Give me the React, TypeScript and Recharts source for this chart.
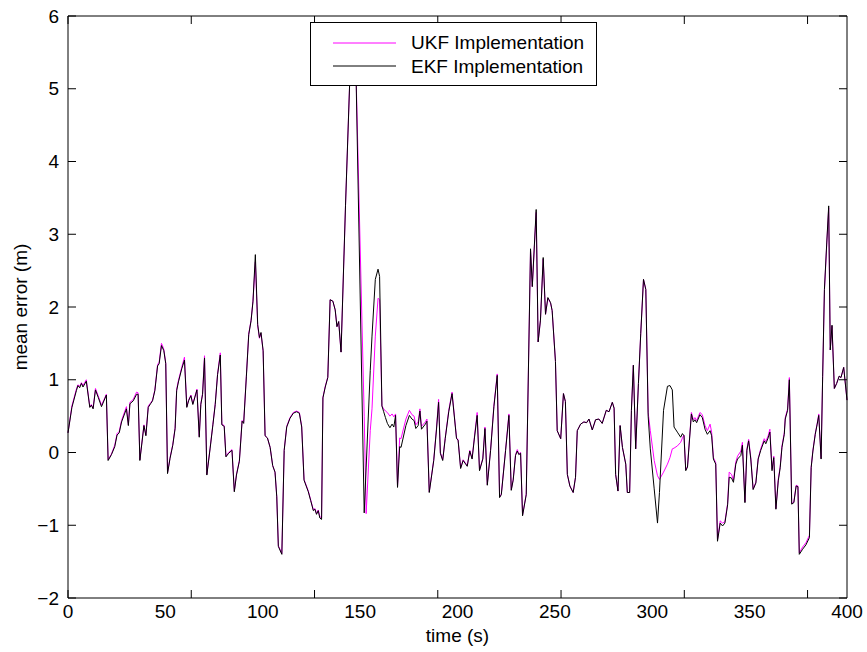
import React from 'react';
import { LineChart, Line, XAxis, YAxis, Legend } from 'recharts';

// sample times (s)
const time = [
  0, 2, 4.3, 5.1, 6, 6.9, 7.7, 9.4, 11.2, 12,
  12.9, 14.1, 15.5, 17.2, 19.7, 20.6, 22.3, 24, 25.2, 26.3,
  27.5, 30, 31, 31.8, 33.5, 35.2, 36, 36.9, 39, 40,
  41.2, 42.4, 43.4, 44.6, 46, 46.8, 48, 49.2, 50.2, 51.1,
  52.4, 53.8, 55, 55.8, 56.7, 58.4, 59.8, 61, 61.9, 63.1,
  64.1, 66.2, 67.4, 68.2, 69.1, 70.1, 71.3, 73, 74.4, 75.6,
  76.8, 78.2, 79, 80.2, 81.1, 82.5, 84.2, 85.4, 86.5, 88,
  89.4, 90.2, 91.6, 92.8, 94, 95, 96.2, 97.4, 98.3, 99.1,
  100.2, 101.2, 102.4, 103.8, 105.1, 106.3, 107.2, 108, 109.8, 111,
  112.3, 114, 115.7, 117.4, 118.8, 120, 121.2, 123.4, 124.6, 126,
  126.8, 127.6, 128.5, 129.3, 130.2, 130.9, 132.1, 133.4, 134.6, 136,
  137.2, 138.1, 139, 140.2, 142.5, 144.6, 146.3, 148, 152.1, 153.1,
  155.2, 156.1, 157.8, 159.2, 160, 161.2, 162.1, 163, 164, 165.3,
  166.4, 167.3, 168.2, 169.2, 170.3, 171, 173.5, 175.3, 176.6, 177.7,
  178.6, 179.8, 180.7, 181.5, 183.5, 184.3, 185.5, 187.8, 189.2, 190.3,
  191.2, 192.4, 193.7, 195.5, 197.2, 199.5, 200.3, 201.6, 202.9, 205,
  206.3, 207.5, 208.7, 210.1, 211.3, 213, 214.1, 215.3, 217, 218.7,
  220.4, 221.6, 222.5, 224.7, 226.4, 227.6, 228.6, 229.8, 230.7, 231.5,
  232.4, 233.4, 235.3, 237.5, 238.4, 240.4, 241.4, 242.6, 244, 245.2,
  246.4, 247.8, 248.6, 250.3, 251.2, 253, 254.4, 255.4, 256.4, 257.7,
  259.4, 260.6, 261.5, 263.2, 264.9, 266.3, 267.5, 269.2, 270.9, 272.6,
  274.3, 276.4, 277.8, 279.5, 280.4, 281.2, 282.4, 283.5, 284.7, 286.4,
  287.2, 288.4, 289.3, 290.3, 291.5, 292.9, 294.1, 295.5, 296.7, 297.9,
  299, 301, 302.7, 303.7, 305.8, 307.8, 309.1, 310.3, 311.2, 312.9,
  314.6, 315.5, 316.3, 317.2, 318.1, 320.1, 321.1, 321.9, 322.8, 324.5,
  325.7, 327.1, 328.3, 329.7, 330.5, 331.4, 332.6, 333.5, 334.9, 336.1,
  337.3, 338.7, 339.5, 340.7, 341.7, 342.9, 343.8, 345.5, 346.3, 347.6,
  348.6, 349.5, 350.6, 351.8, 353.2, 354.4, 355.7, 357.5, 358.3, 359.5,
  360.4, 361.5, 362.4, 363.5, 364.7, 365.7, 366.6, 367.8, 368.3, 369.5,
  370.4, 371.6, 372.7, 373.9, 374.8, 375.5, 377.2, 378.9, 380.7, 381.6,
  382.5, 383.7, 384.7, 385.5, 386.7, 387.5, 388.4, 389.6, 390.6, 391.4,
  392.3, 393.5, 394.7, 396, 396.9, 398.3, 400,
];

// mean error of the EKF (m)
const ekf = [
  0.27, 0.62, 0.85, 0.92, 0.89, 0.95, 0.9, 0.98, 0.62, 0.65,
  0.6, 0.86, 0.76, 0.63, 0.79, -0.11, -0.03, 0.08, 0.24, 0.27,
  0.42, 0.6, 0.37, 0.67, 0.71, 0.8, 0.8, -0.11, 0.37, 0.23,
  0.62, 0.67, 0.71, 0.85, 1.19, 1.22, 1.47, 1.4, 1.22, -0.29,
  -0.08, 0.1, 0.33, 0.85, 0.97, 1.15, 1.27, 0.62, 0.71, 0.78,
  0.66, 0.86, 0.21, 0.66, 0.8, 1.3, -0.31, 0.06, 0.38, 0.66,
  1.07, 1.34, 0.38, 0.36, -0.06, -0.01, 0.03, -0.54, -0.31, -0.12,
  0.43, 0.4, 1.05, 1.62, 1.81, 2.08, 2.72, 1.76, 1.58, 1.65,
  1.4, 0.23, 0.2, 0.07, -0.18, -0.27, -0.61, -1.29, -1.4, 0.03,
  0.35, 0.47, 0.54, 0.56, 0.54, 0.35, -0.38, -0.54, -0.66, -0.8,
  -0.78, -0.85, -0.8, -0.9, -0.92, 0.75, 0.9, 1.03, 2.1, 2.08,
  1.96, 1.73, 1.8, 1.38, 3.4, 5.05, 5.8, 5.05, -0.83, -0.2,
  1.13, 1.6, 2.38, 2.52, 2.42, 0.64, 0.56, 0.48, 0.4, 0.34,
  0.39, 0.35, 0.51, -0.48, 0.08, 0.07, 0.37, 0.51, 0.46, 0.44,
  0.33, 0.37, 0.57, 0.32, 0.39, 0.43, -0.55, -0.11, 0.31, 0.69,
  -0.01, -0.11, 0.19, 0.56, 0.81, 0.19, 0.17, -0.22, -0.11, -0.19,
  0.02, -0.09, 0.2, 0.51, -0.25, -0.09, 0.33, -0.45, 0.03, 0.63,
  1.06, -0.62, -0.58, 0.03, 0.51, -0.52, -0.38, -0.04, 0.02, -0.03,
  -0.01, -0.87, -0.58, 2.8, 2.28, 3.34, 1.52, 1.82, 2.68, 1.9,
  2.13, 2.06, 1.95, 1.25, 0.3, 0.19, 0.81, 0.7, -0.3, -0.46,
  -0.55, -0.34, 0.3, 0.39, 0.42, 0.41, 0.46, 0.31, 0.45, 0.46,
  0.4, 0.58, 0.56, 0.69, 0.61, -0.3, -0.53, 0.37, 0.07, -0.16,
  -0.55, -0.55, 0.58, 1.2, 0.05, 0.95, 1.64, 2.38, 2.24, 0.5,
  0.05, -0.5, -0.97, -0.55, 0.58, 0.91, 0.92, 0.86, 0.35, 0.28,
  0.21, 0.26, 0.23, -0.25, -0.2, 0.53, 0.42, 0.45, 0.41, 0.52,
  0.48, 0.32, 0.25, 0.3, 0.23, -0.09, -0.16, -1.22, -0.97, -1.01,
  -0.97, -0.72, -0.34, -0.35, -0.41, -0.16, -0.09, -0.04, 0.1, -0.69,
  0.03, 0.16, -0.09, -0.51, -0.42, -0.09, 0.03, 0.16, 0.12, 0.2,
  0.28, -0.25, -0.07, -0.78, -0.39, -0.21, 0.07, 0.25, 0.46, 0.58,
  1.0, -0.71, -0.69, -0.46, -0.47, -1.4, -1.33, -1.27, -1.17, -0.21,
  0.02, 0.25, 0.39, 0.51, -0.09, 1.04, 2.24, 2.88, 3.39, 1.41,
  1.75, 0.88, 0.95, 1.05, 1.03, 1.17, 0.72,
];

// mean error of the UKF (m)
const ukf = [
  0.27, 0.64, 0.87, 0.93, 0.91, 0.96, 0.92, 1.0, 0.63, 0.66,
  0.61, 0.88, 0.78, 0.65, 0.8, -0.1, -0.02, 0.1, 0.26, 0.29,
  0.44, 0.63, 0.38, 0.69, 0.73, 0.83, 0.82, -0.1, 0.38, 0.24,
  0.64, 0.68, 0.72, 0.86, 1.21, 1.24, 1.5, 1.42, 1.23, -0.28,
  -0.07, 0.11, 0.34, 0.87, 0.99, 1.17, 1.31, 0.63, 0.72, 0.79,
  0.67, 0.87, 0.22, 0.67, 0.81, 1.33, -0.3, 0.07, 0.39, 0.67,
  1.08, 1.37, 0.39, 0.37, -0.05, 0, 0.04, -0.53, -0.3, -0.11,
  0.44, 0.41, 1.06, 1.63, 1.82, 2.09, 2.62, 1.74, 1.57, 1.64,
  1.39, 0.23, 0.2, 0.07, -0.18, -0.27, -0.61, -1.28, -1.39, 0.03,
  0.36, 0.48, 0.55, 0.57, 0.55, 0.36, -0.37, -0.53, -0.65, -0.79,
  -0.77, -0.84, -0.79, -0.88, -0.9, 0.76, 0.91, 1.04, 2.1, 2.08,
  1.96, 1.73, 1.8, 1.38, 3.4, 5.05, 5.8, 5.1, 0.5, -0.84,
  0.3, 0.6, 1.6, 2.12, 2.1, 0.64, 0.6, 0.57, 0.55, 0.5,
  0.53, 0.49, 0.53, -0.47, 0.2, 0.19, 0.46, 0.58, 0.52, 0.5,
  0.38, 0.42, 0.6, 0.36, 0.42, 0.46, -0.54, -0.1, 0.33, 0.73,
  0, -0.1, 0.2, 0.58, 0.83, 0.2, 0.18, -0.21, -0.1, -0.18,
  0.03, -0.08, 0.22, 0.55, -0.24, -0.08, 0.35, -0.44, 0.04, 0.65,
  1.08, -0.61, -0.57, 0.04, 0.53, -0.51, -0.37, -0.03, 0.04, -0.02,
  0, -0.86, -0.57, 2.78, 2.28, 3.3, 1.52, 1.82, 2.66, 1.9,
  2.12, 2.05, 1.95, 1.25, 0.3, 0.19, 0.81, 0.7, -0.3, -0.46,
  -0.55, -0.34, 0.3, 0.39, 0.42, 0.41, 0.46, 0.31, 0.45, 0.46,
  0.4, 0.58, 0.56, 0.69, 0.61, -0.3, -0.53, 0.37, 0.07, -0.16,
  -0.55, -0.55, 0.58, 1.2, 0.05, 0.95, 1.64, 2.38, 2.24, 0.55,
  0.3, -0.11, -0.32, -0.37, -0.27, -0.16, -0.07, 0.05, 0.06, 0.09,
  0.14, 0.2, 0.24, -0.24, -0.19, 0.55, 0.45, 0.48, 0.44, 0.55,
  0.52, 0.37, 0.3, 0.39, 0.28, -0.07, -0.14, -1.2, -0.94, -0.97,
  -0.95, -0.7, -0.27, -0.3, -0.38, -0.13, -0.05, 0.02, 0.14, -0.68,
  0.05, 0.18, -0.07, -0.5, -0.41, -0.08, 0.05, 0.19, 0.15, 0.23,
  0.32, -0.23, -0.05, -0.77, -0.37, -0.19, 0.09, 0.27, 0.48, 0.6,
  1.03, -0.7, -0.68, -0.45, -0.46, -1.38, -1.3, -1.24, -1.14, -0.2,
  0.03, 0.26, 0.4, 0.53, -0.08, 1.04, 2.22, 2.86, 3.36, 1.41,
  1.74, 0.88, 0.95, 1.05, 1.03, 1.17, 0.72,
];

const xTicks = [0, 50, 100, 150, 200, 250, 300, 350, 400];
const yTicks = [-2, -1, 0, 1, 2, 3, 4, 5, 6];

const UKF_NAME = 'UKF Implementation';
const EKF_NAME = 'EKF Implementation';
const legendOrder = [UKF_NAME, EKF_NAME];

const data = time.map((t, i) => ({ t, ukf: ukf[i], ekf: ekf[i] }));

const FONT = '"Liberation Sans", Arial, Helvetica, sans-serif';
const FS = 19;
const TICK_LEN = 8;
const tickStyle = { fill: '#000', fontSize: FS, fontFamily: FONT };
const minus = (v: number) => (v < 0 ? '\u2212' + Math.abs(v) : String(v));
const blank = () => '';

const YTitle = ({ viewBox }: any) => {
  const cx = 20;
  const cy = viewBox.y + viewBox.height / 2;
  return (
    <text
      x={cx}
      y={cy}
      transform={`rotate(-90 ${cx} ${cy})`}
      textAnchor="middle"
      dominantBaseline="central"
      fill="#000"
      fontSize={FS}
      fontFamily={FONT}
    >
      mean error (m)
    </text>
  );
};

const LegendBox = ({ payload }: any) => {
  const items = [...(payload || [])].sort(
    (a: any, b: any) => legendOrder.indexOf(a.value) - legendOrder.indexOf(b.value)
  );
  return (
    <div
      style={{
        width: 287,
        height: 64,
        boxSizing: 'border-box',
        border: '1px solid #000',
        background: '#fff',
        paddingTop: 8,
        fontFamily: FONT,
        fontSize: FS,
        color: '#000',
      }}
    >
      {items.map((p: any) => (
        <div key={p.value} style={{ display: 'flex', alignItems: 'center', height: 23.5 }}>
          <svg width={100} height={4} style={{ flex: 'none' }}>
            <line x1={22} x2={85} y1={2} y2={2} stroke={p.color} strokeWidth={1} />
          </svg>
          <span style={{ lineHeight: 1 }}>{p.value}</span>
        </div>
      ))}
    </div>
  );
};

// inward tick marks on all four sides of the box (lines only, empty labels)
const tickAxis = {
  type: 'number' as const,
  allowDataOverflow: true,
  interval: 0 as const,
  mirror: true,
  tickFormatter: blank,
  tickSize: TICK_LEN,
  tickMargin: 0,
  tickLine: { stroke: '#000' },
};

export default function App() {
  return (
    <div style={{ position: 'absolute', left: 0, top: 0, width: 867, height: 652, background: '#fff' }}>
      <LineChart width={867} height={652} data={data} margin={{ top: 16, right: 20, bottom: 0, left: 0 }}>
        <XAxis
          dataKey="t"
          type="number"
          domain={[0, 400]}
          ticks={xTicks}
          interval={0}
          height={54}
          tickSize={0}
          tickMargin={7}
          tick={tickStyle}
          axisLine={{ stroke: '#000' }}
          tickLine={false}
          label={{ value: 'time (s)', position: 'insideBottom', offset: 10, fill: '#000', fontSize: FS, fontFamily: FONT }}
        />
        <XAxis xAxisId="bottomTicks" orientation="bottom" domain={[0, 400]} ticks={xTicks} axisLine={false} {...tickAxis} />
        <XAxis xAxisId="top" orientation="top" domain={[0, 400]} ticks={xTicks} axisLine={{ stroke: '#000' }} {...tickAxis} />
        <YAxis
          type="number"
          domain={[-2, 6]}
          ticks={yTicks}
          interval={0}
          width={68}
          tickSize={0}
          tickMargin={9}
          tick={tickStyle}
          tickFormatter={minus}
          axisLine={{ stroke: '#000' }}
          tickLine={false}
          label={{ content: YTitle }}
        />
        <YAxis yAxisId="leftTicks" orientation="left" domain={[-2, 6]} ticks={yTicks} axisLine={false} {...tickAxis} />
        <YAxis yAxisId="right" orientation="right" domain={[-2, 6]} ticks={yTicks} axisLine={{ stroke: '#000' }} {...tickAxis} />
        <Line
          name={UKF_NAME}
          dataKey="ukf"
          type="linear"
          stroke="#ff00ff"
          strokeWidth={1}
          dot={false}
          isAnimationActive={false}
        />
        <Line
          name={EKF_NAME}
          dataKey="ekf"
          type="linear"
          stroke="#000000"
          strokeWidth={1}
          dot={false}
          isAnimationActive={false}
        />
        <Legend
          layout="horizontal"
          verticalAlign="middle"
          align="center"
          content={<LegendBox />}
          wrapperStyle={{ left: 310, top: 22, width: 287, height: 64 }}
        />
      </LineChart>
    </div>
  );
}
